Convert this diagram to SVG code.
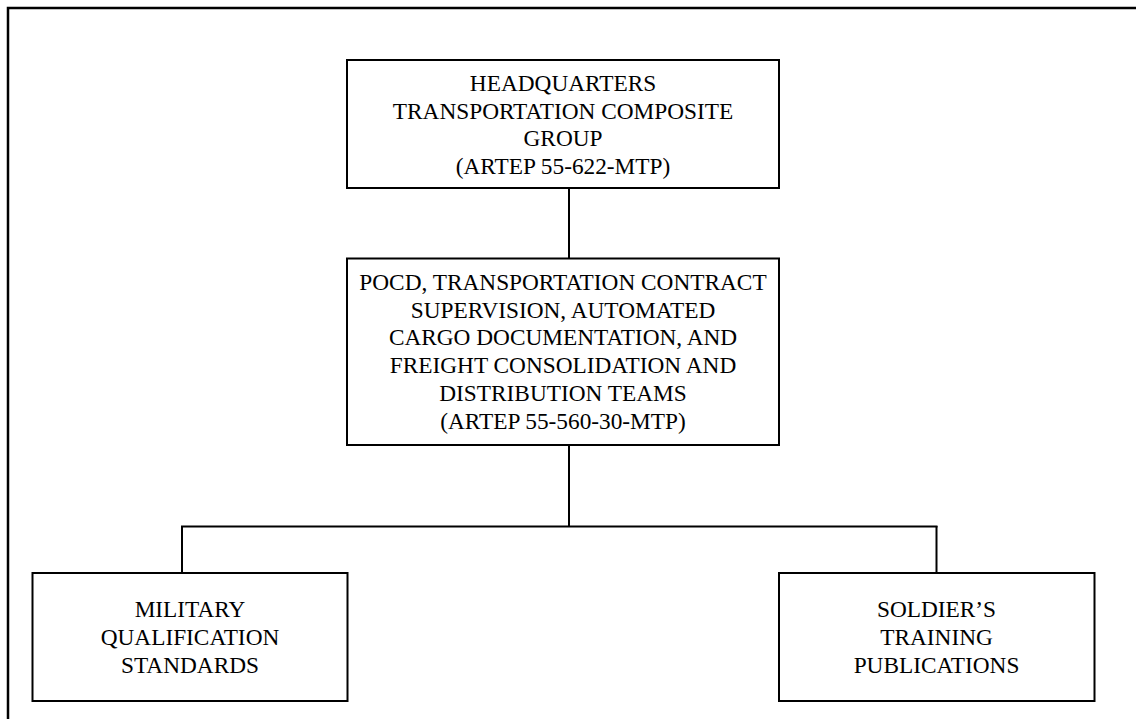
<svg xmlns="http://www.w3.org/2000/svg" width="1136" height="719" viewBox="0 0 1136 719">
<style>
.box{fill:#fff;stroke:#000;stroke-width:2}
.frame{fill:none;stroke:#000;stroke-width:2.5}
.con{fill:none;stroke:#000;stroke-width:2}
text{font-family:"Liberation Serif","Times New Roman",serif;font-size:23.3px;fill:#000;text-anchor:middle}
</style>
<rect width="1136" height="719" fill="#fff"/>
<path class="frame" d="M8,722 V8 H1140"/>
<g id="connectors">
<line class="con" x1="569" y1="188" x2="569" y2="259"/>
<line class="con" x1="569" y1="445" x2="569" y2="527"/>
<line class="con" x1="181" y1="526.5" x2="937.5" y2="526.5"/>
<line class="con" x1="182" y1="526" x2="182" y2="573"/>
<line class="con" x1="936.5" y1="526" x2="936.5" y2="573"/>
</g>
<g id="hq">
<rect class="box" x="347" y="60" width="432" height="128"/>
<text x="563" y="91">HEADQUARTERS</text>
<text x="563" y="118.5">TRANSPORTATION COMPOSITE</text>
<text x="563" y="146">GROUP</text>
<text x="563" y="173.5">(ARTEP 55-622-MTP)</text>
</g>
<g id="teams">
<rect class="box" x="347" y="258.5" width="432" height="186.5"/>
<text x="563" y="290">POCD, TRANSPORTATION CONTRACT</text>
<text x="563" y="317.7">SUPERVISION, AUTOMATED</text>
<text x="563" y="345.4">CARGO DOCUMENTATION, AND</text>
<text x="563" y="373.1">FREIGHT CONSOLIDATION AND</text>
<text x="563" y="400.8">DISTRIBUTION TEAMS</text>
<text x="563" y="428.5">(ARTEP 55-560-30-MTP)</text>
</g>
<g id="mqs">
<rect class="box" x="32.5" y="573" width="315" height="128"/>
<text x="190" y="617.3">MILITARY</text>
<text x="190" y="645">QUALIFICATION</text>
<text x="190" y="672.5">STANDARDS</text>
</g>
<g id="stp">
<rect class="box" x="779" y="573" width="315.5" height="128"/>
<text x="936.5" y="617.3">SOLDIER’S</text>
<text x="936.5" y="645">TRAINING</text>
<text x="936.5" y="672.5">PUBLICATIONS</text>
</g>
</svg>
